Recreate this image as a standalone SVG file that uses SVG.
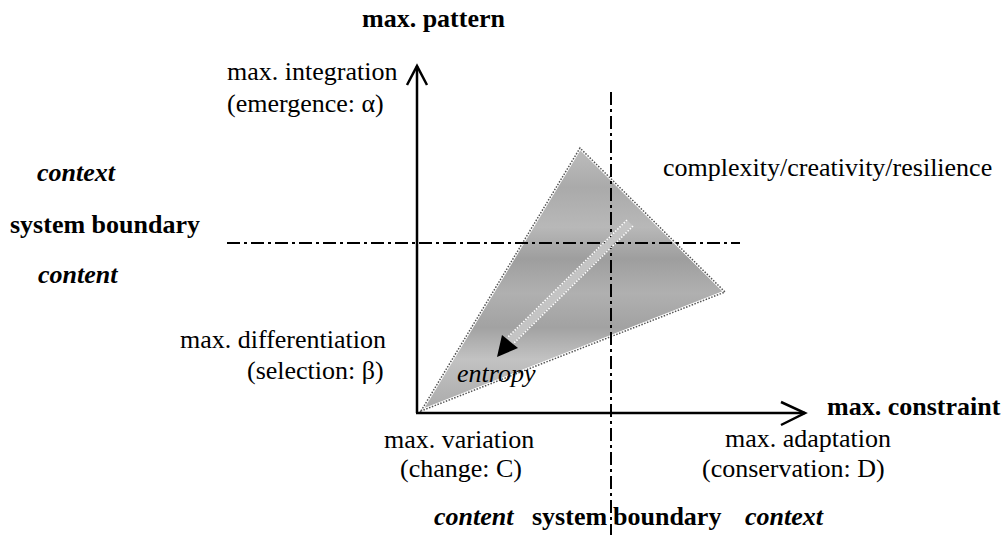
<svg xmlns="http://www.w3.org/2000/svg" width="1008" height="548" viewBox="0 0 1008 548">
<defs>
<style>
text{font-family:"Liberation Serif","Times New Roman",serif;font-size:26px;fill:#000}
.b{font-weight:bold}
.bi{font-weight:bold;font-style:italic}
.i{font-style:italic}
.axis{stroke:#000;stroke-width:2.5;fill:none}
.bound{stroke:#000;stroke-width:2;fill:none;stroke-dasharray:13 4 3 4}
.dotw{stroke:#fff;stroke-width:1.6;stroke-dasharray:1.5 1.5}
</style>
<linearGradient id="tg" gradientUnits="userSpaceOnUse" x1="0" y1="148" x2="0" y2="412">
<stop offset="0" stop-color="#bdbdbd"/>
<stop offset="0.15" stop-color="#aaaaaa"/>
<stop offset="0.3" stop-color="#b8b8b8"/>
<stop offset="0.42" stop-color="#9e9e9e"/>
<stop offset="0.55" stop-color="#b0b0b0"/>
<stop offset="0.68" stop-color="#a2a2a2"/>
<stop offset="0.8" stop-color="#c2c2c2"/>
<stop offset="1" stop-color="#aaaaaa"/>
</linearGradient>
</defs>
<rect width="1008" height="548" fill="#fff"/>

<g id="triangle">
<polygon points="421,411 580,148 725,292" fill="url(#tg)" stroke="#fff" stroke-width="3"/>
<polygon points="421,411 580,148 725,292" fill="none" stroke="#555" stroke-width="1.5" stroke-dasharray="1.5 1.5"/>
</g>

<g id="connectors">
<line class="axis" x1="417" y1="413" x2="417" y2="66"/>
<polyline class="axis" points="407,85 417,66 427,85"/>
<line class="axis" x1="416" y1="413" x2="805" y2="413"/>
<polyline class="axis" points="781,402 805,413 781,425"/>
<line class="bound" x1="227" y1="243" x2="740" y2="243"/>
<line class="bound" x1="611" y1="92" x2="611" y2="535"/>
<g id="entropy-arrow">
<line x1="630" y1="223" x2="510" y2="341" stroke="#c4c4c4" stroke-width="7"/>
<line class="dotw" x1="633" y1="226" x2="513" y2="344"/>
<line class="dotw" x1="627" y1="220" x2="507" y2="338"/>
<polygon points="497,357 502,335 518,348" fill="#000"/>
</g>
</g>

<g id="label-pattern"><text class="b" x="362" y="27">max. pattern</text></g>
<g id="label-integration"><text x="227" y="80">max. integration</text><text x="227" y="112">(emergence: α)</text></g>
<g id="label-context-left"><text class="bi" x="37" y="181">context</text></g>
<g id="label-complexity"><text x="663" y="176">complexity/creativity/resilience</text></g>
<g id="label-boundary-left"><text class="b" x="10" y="233">system boundary</text></g>
<g id="label-content-left"><text class="bi" x="38" y="283">content</text></g>
<g id="label-differentiation"><text x="180" y="348">max. differentiation</text><text x="247" y="379">(selection: β)</text></g>
<g id="label-entropy"><text class="i" x="457" y="382">entropy</text></g>
<g id="label-constraint"><text class="b" x="827" y="415">max. constraint</text></g>
<g id="label-variation"><text x="384" y="448">max. variation</text><text x="400" y="477">(change: C)</text></g>
<g id="label-adaptation"><text x="725" y="447">max. adaptation</text><text x="702" y="477">(conservation: D)</text></g>
<g id="label-bottom">
<text class="bi" x="434" y="525">content</text>
<text class="b" x="532" y="525">system</text>
<text class="b" x="613" y="525">boundary</text>
<text class="bi" x="745" y="525">context</text>
</g>
</svg>
